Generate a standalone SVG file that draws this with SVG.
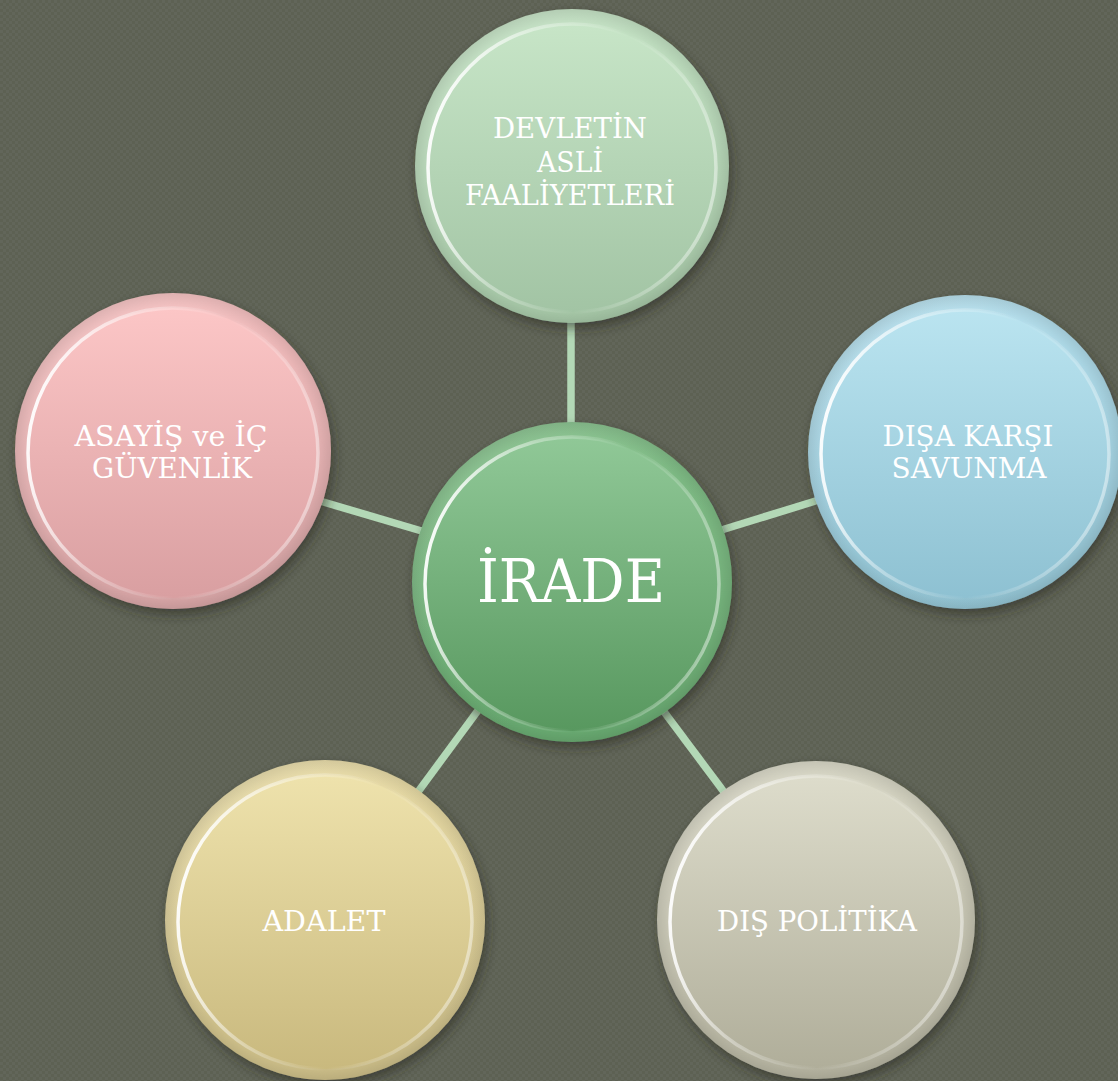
<svg xmlns="http://www.w3.org/2000/svg" width="1118" height="1081" viewBox="0 0 1118 1081">
<defs>
<style>
.lbl{font-family:"DejaVu Serif","Liberation Serif",serif;fill:#ffffff;text-anchor:middle;font-size:27px}
.big{font-size:60px}
.conn{stroke:#b3d8b6;stroke-width:7.5;stroke-linecap:butt}
.rim{fill:none;stroke:url(#rimG);stroke-width:3.5}
.edge{fill:url(#edgeG)}
.hi{fill:url(#hiG)}
</style>
<pattern id="bgP" width="6" height="6" patternUnits="userSpaceOnUse">
<rect width="6" height="6" fill="#5d6153"/>
<rect width="3" height="3" fill="#62665a"/>
<rect x="3" y="3" width="3" height="3" fill="#62665a"/>
</pattern>
<filter id="sh" x="-20%" y="-20%" width="140%" height="140%">
<feDropShadow dx="3" dy="6" stdDeviation="6" flood-color="#2a2c24" flood-opacity="0.55"/>
</filter>
<linearGradient id="rimG" x1="0" y1="0.4" x2="1" y2="0.6">
<stop offset="0" stop-color="#ffffff" stop-opacity="0.95"/>
<stop offset="0.3" stop-color="#ffffff" stop-opacity="0.35"/>
<stop offset="0.6" stop-color="#ffffff" stop-opacity="0"/>
<stop offset="1" stop-color="#ffffff" stop-opacity="0.45"/>
</linearGradient>
<radialGradient id="edgeG" cx="0.5" cy="0.5" r="0.5">
<stop offset="0.9" stop-color="#000" stop-opacity="0"/>
<stop offset="1" stop-color="#000" stop-opacity="0.1"/>
</radialGradient>
<linearGradient id="hiG" x1="0" y1="0" x2="1" y2="1">
<stop offset="0" stop-color="#ffffff" stop-opacity="0.15"/>
<stop offset="0.5" stop-color="#ffffff" stop-opacity="0"/>
<stop offset="1" stop-color="#000000" stop-opacity="0.06"/>
</linearGradient>
<linearGradient id="gTop" x1="0" y1="0" x2="0" y2="1"><stop offset="0" stop-color="#c7e5c7"/><stop offset="1" stop-color="#a2c4a4"/></linearGradient>
<linearGradient id="gTopB" x1="0" y1="0" x2="0" y2="1"><stop offset="0" stop-color="#c3e2c3"/><stop offset="1" stop-color="#aacdab"/></linearGradient>
<linearGradient id="gCen" x1="0" y1="0" x2="0" y2="1"><stop offset="0" stop-color="#90c897"/><stop offset="1" stop-color="#58985f"/></linearGradient>
<linearGradient id="gCenB" x1="0" y1="0" x2="0" y2="1"><stop offset="0" stop-color="#84c08a"/><stop offset="1" stop-color="#6aae72"/></linearGradient>
<linearGradient id="gBlu" x1="0" y1="0" x2="0" y2="1"><stop offset="0" stop-color="#bae4f0"/><stop offset="1" stop-color="#8ec1d2"/></linearGradient>
<linearGradient id="gBluB" x1="0" y1="0" x2="0" y2="1"><stop offset="0" stop-color="#b4dfed"/><stop offset="1" stop-color="#96c9d9"/></linearGradient>
<linearGradient id="gPnk" x1="0" y1="0" x2="0" y2="1"><stop offset="0" stop-color="#fcc6c6"/><stop offset="1" stop-color="#d99fa1"/></linearGradient>
<linearGradient id="gPnkB" x1="0" y1="0" x2="0" y2="1"><stop offset="0" stop-color="#f6c0c0"/><stop offset="1" stop-color="#dea9aa"/></linearGradient>
<linearGradient id="gYel" x1="0" y1="0" x2="0" y2="1"><stop offset="0" stop-color="#eee2ac"/><stop offset="1" stop-color="#c9b97e"/></linearGradient>
<linearGradient id="gYelB" x1="0" y1="0" x2="0" y2="1"><stop offset="0" stop-color="#e9dca6"/><stop offset="1" stop-color="#d1c28a"/></linearGradient>
<linearGradient id="gGry" x1="0" y1="0" x2="0" y2="1"><stop offset="0" stop-color="#dddccb"/><stop offset="1" stop-color="#b0ae9a"/></linearGradient>
<linearGradient id="gGryB" x1="0" y1="0" x2="0" y2="1"><stop offset="0" stop-color="#d7d6c4"/><stop offset="1" stop-color="#bab8a4"/></linearGradient>
</defs>
<rect width="1118" height="1081" fill="url(#bgP)"/>
<g id="connectors">
<line class="conn" x1="571" y1="310" x2="571" y2="430"/>
<line class="conn" x1="320" y1="501" x2="425" y2="532"/>
<line class="conn" x1="715" y1="532" x2="822" y2="499"/>
<line class="conn" x1="482" y1="705" x2="412" y2="800"/>
<line class="conn" x1="659" y1="705" x2="730" y2="800"/>
</g>
<g id="node-devletin">
<circle cx="572" cy="166" r="157" fill="url(#gTopB)" filter="url(#sh)"/>
<circle class="hi" cx="572" cy="166" r="157"/>
<circle class="edge" cx="572" cy="166" r="157"/>
<circle cx="572" cy="168" r="144" fill="url(#gTop)"/>
<circle class="rim" cx="572" cy="168" r="144"/>
<text class="lbl" x="570" y="138" textLength="154" lengthAdjust="spacingAndGlyphs">DEVLETİN</text>
<text class="lbl" x="570" y="172" textLength="66" lengthAdjust="spacingAndGlyphs">ASLİ</text>
<text class="lbl" x="570" y="205" textLength="210" lengthAdjust="spacingAndGlyphs">FAALİYETLERİ</text>
</g>
<g id="node-asayis">
<circle cx="173" cy="451" r="158" fill="url(#gPnkB)" filter="url(#sh)"/>
<circle class="hi" cx="173" cy="451" r="158"/>
<circle class="edge" cx="173" cy="451" r="158"/>
<circle cx="173" cy="453" r="145" fill="url(#gPnk)"/>
<circle class="rim" cx="173" cy="453" r="145"/>
<text class="lbl" x="171" y="446" textLength="193" lengthAdjust="spacingAndGlyphs">ASAYİŞ ve İÇ</text>
<text class="lbl" x="172" y="478" textLength="160" lengthAdjust="spacingAndGlyphs">GÜVENLİK</text>
</g>
<g id="node-disa">
<circle cx="965" cy="452" r="157" fill="url(#gBluB)" filter="url(#sh)"/>
<circle class="hi" cx="965" cy="452" r="157"/>
<circle class="edge" cx="965" cy="452" r="157"/>
<circle cx="965" cy="454" r="144" fill="url(#gBlu)"/>
<circle class="rim" cx="965" cy="454" r="144"/>
<text class="lbl" x="968" y="446" textLength="171" lengthAdjust="spacingAndGlyphs">DIŞA KARŞI</text>
<text class="lbl" x="969" y="478" textLength="155" lengthAdjust="spacingAndGlyphs">SAVUNMA</text>
</g>
<g id="node-adalet">
<circle cx="325" cy="920" r="160" fill="url(#gYelB)" filter="url(#sh)"/>
<circle class="hi" cx="325" cy="920" r="160"/>
<circle class="edge" cx="325" cy="920" r="160"/>
<circle cx="325" cy="922" r="147" fill="url(#gYel)"/>
<circle class="rim" cx="325" cy="922" r="147"/>
<text class="lbl" x="324" y="931" textLength="123" lengthAdjust="spacingAndGlyphs">ADALET</text>
</g>
<g id="node-dis">
<circle cx="816" cy="920" r="159" fill="url(#gGryB)" filter="url(#sh)"/>
<circle class="hi" cx="816" cy="920" r="159"/>
<circle class="edge" cx="816" cy="920" r="159"/>
<circle cx="816" cy="922" r="146" fill="url(#gGry)"/>
<circle class="rim" cx="816" cy="922" r="146"/>
<text class="lbl" x="817" y="931" textLength="200" lengthAdjust="spacingAndGlyphs">DIŞ POLİTİKA</text>
</g>
<g id="node-irade">
<circle cx="572" cy="582" r="160" fill="url(#gCenB)" filter="url(#sh)"/>
<circle class="hi" cx="572" cy="582" r="160"/>
<circle class="edge" cx="572" cy="582" r="160"/>
<circle cx="572" cy="584" r="147" fill="url(#gCen)"/>
<circle class="rim" cx="572" cy="584" r="147"/>
<text class="lbl big" x="571" y="602" textLength="188" lengthAdjust="spacingAndGlyphs">İRADE</text>
</g>
</svg>
